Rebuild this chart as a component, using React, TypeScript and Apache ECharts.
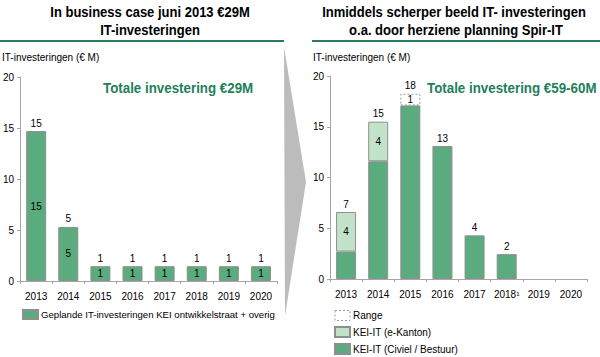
import React, { useEffect, useRef } from "react";
import * as echarts from "echarts";

const years = ["2013", "2014", "2015", "2016", "2017", "2018", "2019", "2020"];
const rightYearLabels = ["2013", "2014", "2015", "2016", "2017", "2018\u00b9", "2019", "2020"];
const plannedValues = [14.7, 5.3, 1.45, 1.45, 1.45, 1.45, 1.45, 1.45];
const plannedLabels = ["15", "5", "1", "1", "1", "1", "1", "1"];
const civielValues = [2.7, 11.6, 17.1, 13.1, 4.3, 2.45, null, null];
const kantonValues = [3.9, 3.9, null, null, null, null, null, null];
const kantonLabels = ["4", "4", "", "", "", "", "", ""];
const rangeValues = [null, null, 1.15, null, null, null, null, null];
const rangeLabels = ["", "", "1", "", "", "", "", ""];
const rightTotalLabels = ["7", "15", "18", "13", "4", "2", "", ""];
const yTicks = [0, 5, 10, 15, 20];

const FONT = "Liberation Sans, Arial, sans-serif";
const DARK = "#5aab7e";
const LIGHT = "#c2e3c9";
const BORDER = "#8f8f8f";
const TITLE_GREEN = "#23805a";

export default function App() {
  const ref = useRef<HTMLDivElement>(null);
  useEffect(() => {
    if (!ref.current) return;
    const chart = echarts.init(ref.current, null, { renderer: "svg" });
    const yAxisBase = {
      type: "value",
      min: yTicks[0],
      max: yTicks[yTicks.length - 1],
      interval: 5,
      splitLine: { show: false },
      axisLine: { show: true, lineStyle: { color: "#a6a6a6" } },
      axisTick: { show: true, length: 3, lineStyle: { color: "#a6a6a6" } },
      axisLabel: { color: "#000", fontSize: 10, fontFamily: FONT, margin: 6 },
    };
    const xAxisBase = {
      type: "category",
      axisLine: { show: true, lineStyle: { color: "#a6a6a6" } },
      axisTick: { show: true, length: 3, alignWithLabel: false, lineStyle: { color: "#a6a6a6" } },
      axisLabel: { color: "#000", fontSize: 10, fontFamily: FONT, margin: 10, interval: 0 },
    };
    const totalLabel = (labels: string[]) => ({
      show: true,
      position: "top",
      distance: 3,
      color: "#000",
      fontSize: 10,
      fontFamily: FONT,
      formatter: (p: any) => labels[p.dataIndex] || "",
    });
    const insideLabel = (labels: string[]) => ({
      show: true,
      position: "inside",
      color: "#000",
      fontSize: 10,
      fontFamily: FONT,
      formatter: (p: any) => labels[p.dataIndex] || "",
    });
    const leftZero = plannedValues.map(() => 0);
    const rightZero = rightTotalLabels.map((l) => (l ? 0 : null));

    const titleText = (text: string, x: number, y: number) => ({
      type: "text",
      x,
      y,
      scaleX: 0.93,
      style: {
        text,
        font: "bold 14px " + FONT,
        fill: "#000",
        align: "center",
        verticalAlign: "middle",
      },
    });
    const totalText = (text: string, x: number) => ({
      type: "text",
      x,
      y: 88,
      scaleX: 0.89,
      style: {
        text,
        font: "bold 15px " + FONT,
        fill: TITLE_GREEN,
        verticalAlign: "middle",
      },
    });
    const axisName = (x: number) => ({
      type: "text",
      x,
      y: 57,
      style: {
        text: "IT-investeringen (\u20ac M)",
        font: "10px " + FONT,
        fill: "#000",
        verticalAlign: "middle",
      },
    });

    chart.setOption({
      animation: false,
      textStyle: { fontFamily: FONT },
      grid: [
        { left: 20, right: 323, top: 77, bottom: 76 },
        { left: 330, right: 13, top: 76, bottom: 78 },
      ],
      xAxis: [
        { ...xAxisBase, gridIndex: 0, data: years },
        { ...xAxisBase, gridIndex: 1, data: rightYearLabels },
      ],
      yAxis: [
        { ...yAxisBase, gridIndex: 0 },
        { ...yAxisBase, gridIndex: 1 },
      ],
      legend: [
        {
          left: 22,
          top: 309,
          padding: 0,
          orient: "horizontal",
          icon: "rect",
          itemWidth: 15,
          itemHeight: 9,
          itemGap: 4,
          textStyle: { fontSize: 9.6, color: "#000", fontFamily: FONT, padding: [0, 0, 0, -2] },
          data: ["Geplande IT-investeringen KEI ontwikkelstraat + overig"],
        },
        {
          left: 334,
          top: 310,
          padding: 0,
          height: 47,
          orient: "vertical",
          icon: "rect",
          itemWidth: 15,
          itemHeight: 10,
          itemGap: 5,
          textStyle: { fontSize: 10, color: "#000", fontFamily: FONT, padding: [0, 0, 0, -2] },
          data: [
            {
              name: "Range",
              itemStyle: { color: "#ffffff", borderColor: "#9a9a9a", borderWidth: 1, borderType: [2, 2] },
            },
            "KEI-IT (e-Kanton)",
            "KEI-IT (Civiel / Bestuur)",
          ],
        },
      ],
      series: [
        {
          name: "Geplande IT-investeringen KEI ontwikkelstraat + overig",
          type: "bar",
          xAxisIndex: 0,
          yAxisIndex: 0,
          stack: "L",
          barWidth: 20,
          data: plannedValues,
          itemStyle: { color: DARK, borderColor: BORDER, borderWidth: 1 },
          label: insideLabel(plannedLabels),
        },
        {
          name: "leftTotal",
          type: "bar",
          xAxisIndex: 0,
          yAxisIndex: 0,
          stack: "L",
          barWidth: 20,
          data: leftZero,
          itemStyle: { color: "transparent", borderWidth: 0 },
          label: totalLabel(plannedLabels),
        },
        {
          name: "KEI-IT (Civiel / Bestuur)",
          type: "bar",
          xAxisIndex: 1,
          yAxisIndex: 1,
          stack: "R",
          barWidth: 20,
          data: civielValues,
          itemStyle: { color: DARK, borderColor: BORDER, borderWidth: 1 },
        },
        {
          name: "KEI-IT (e-Kanton)",
          type: "bar",
          xAxisIndex: 1,
          yAxisIndex: 1,
          stack: "R",
          barWidth: 20,
          data: kantonValues,
          itemStyle: { color: LIGHT, borderColor: BORDER, borderWidth: 1 },
          label: insideLabel(kantonLabels),
        },
        {
          name: "Range",
          type: "bar",
          xAxisIndex: 1,
          yAxisIndex: 1,
          stack: "R",
          barWidth: 20,
          data: rangeValues,
          itemStyle: { color: "#ffffff", borderColor: "#9a9a9a", borderWidth: 1, borderType: [2, 2] },
          label: insideLabel(rangeLabels),
        },
        {
          name: "rightTotal",
          type: "bar",
          xAxisIndex: 1,
          yAxisIndex: 1,
          stack: "R",
          barWidth: 20,
          data: rightZero,
          itemStyle: { color: "transparent", borderWidth: 0 },
          label: totalLabel(rightTotalLabels),
        },
      ],
      graphic: [
        titleText("In business case juni 2013 \u20ac29M", 150, 12),
        titleText("IT-investeringen", 150, 30),
        titleText("Inmiddels scherper beeld IT- investeringen", 454, 12),
        titleText("o.a. door herziene planning Spir-IT", 456, 30),
        {
          type: "line",
          shape: { x1: 0, y1: 41, x2: 284, y2: 41 },
          style: { stroke: "#2a7e5a", lineWidth: 2 },
        },
        {
          type: "line",
          shape: { x1: 312, y1: 41, x2: 600, y2: 41 },
          style: { stroke: "#2a7e5a", lineWidth: 2 },
        },
        {
          type: "polygon",
          shape: { points: [[284, 47], [306, 182], [285, 316]] },
          style: { fill: "#bcbcbc" },
        },
        axisName(2),
        axisName(313),
        totalText("Totale investering \u20ac29M", 103),
        totalText("Totale investering \u20ac59-60M", 427),
      ],
    });
    return () => chart.dispose();
  }, []);
  return (
    <div
      ref={ref}
      style={{ position: "fixed", left: 0, top: 0, width: 600, height: 357, background: "#fff" }}
    />
  );
}
